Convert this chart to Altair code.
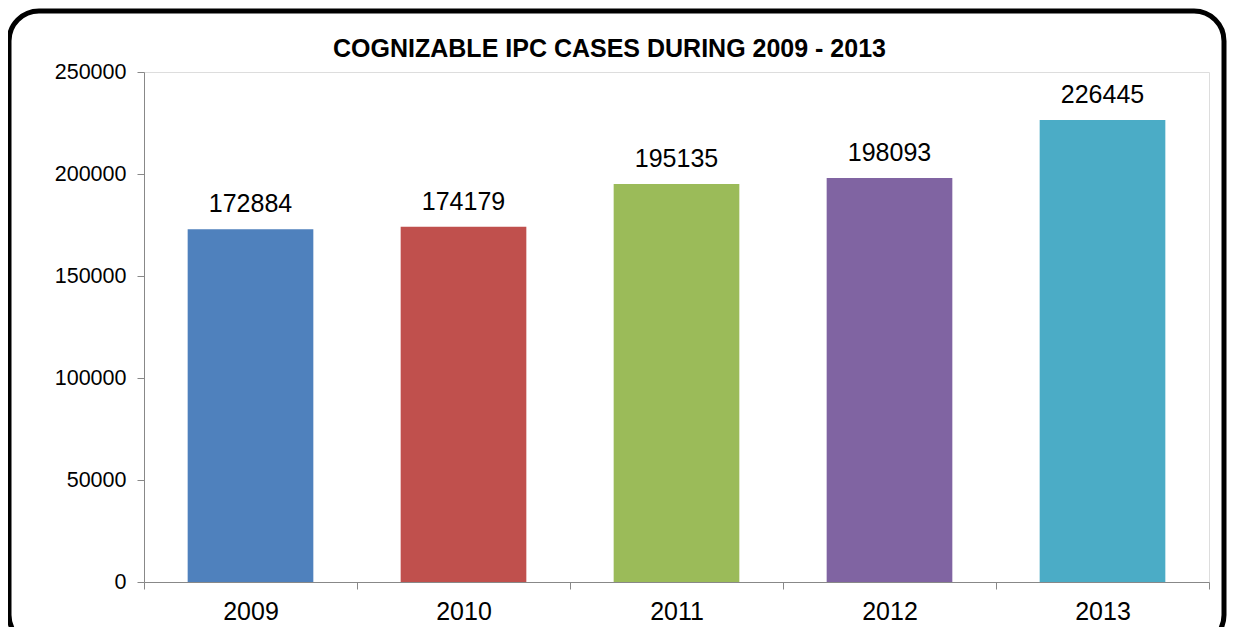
import altair as alt
import pandas as pd

years = ["2009", "2010", "2011", "2012", "2013"]
cases = [172884, 174179, 195135, 198093, 226445]
colors = ["#4F81BD", "#C0504D", "#9BBB59", "#8064A2", "#4BACC6"]
title_text = "COGNIZABLE IPC CASES DURING 2009 - 2013"
y_ticks = [0, 50000, 100000, 150000, 200000, 250000]

df = pd.DataFrame({"year": years, "cases": cases})

FONT = "Liberation Sans"

x_enc = alt.X(
    "year:N",
    sort=years,
    scale=alt.Scale(paddingInner=0, paddingOuter=0),
    axis=alt.Axis(
        title=None, labelAngle=0, tickBand="extent", labelFontSize=25,
        labelPadding=10, tickSize=7,
    ),
)
y_enc = alt.Y(
    "cases:Q",
    scale=alt.Scale(domain=[0, 250000], nice=False),
    axis=alt.Axis(
        title=None, values=y_ticks,
        format="d", grid=False, labelFontSize=21.5, labelPadding=11, tickSize=7,
    ),
)

base = alt.Chart(df)

bars = base.mark_bar(width=alt.RelativeBandSize(0.59)).encode(
    x=x_enc,
    y=y_enc,
    color=alt.Color("year:N", scale=alt.Scale(domain=years, range=colors), legend=None),
)

labels = base.mark_text(
    baseline="alphabetic", dy=-17, fontSize=25, font=FONT, color="black"
).encode(
    x=x_enc,
    y=y_enc,
    text=alt.Text("cases:Q", format="d"),
)

border = alt.Chart(alt.Data(values=[{}])).mark_rect(
    filled=False, stroke="black", strokeWidth=5, cornerRadius=30, clip=False
).encode(
    x=alt.value(-135), x2=alt.value(1080), y=alt.value(-61), y2=alt.value(573)
)

chart = (
    alt.layer(bars, labels, border)
    .properties(
        width=1065,
        height=510,
        title=alt.TitleParams(
            title_text, font=FONT, fontSize=25, fontWeight="bold", color="black",
            anchor="middle", dx=-67, offset=-53,
        ),
        autosize=alt.AutoSizeParams(type="none"),
        padding={"left": 136, "top": 64, "right": 18, "bottom": 45},
    )
    .configure_view(stroke="#808080", strokeWidth=2.5)
    .configure_axis(
        labelFont=FONT, labelColor="black", domainColor="black", domainWidth=1.5,
        tickColor="#333333", tickWidth=1,
    )
    .configure(background="white")
)

chart.save("out.html", embed_options={"renderer": "svg", "actions": False})
